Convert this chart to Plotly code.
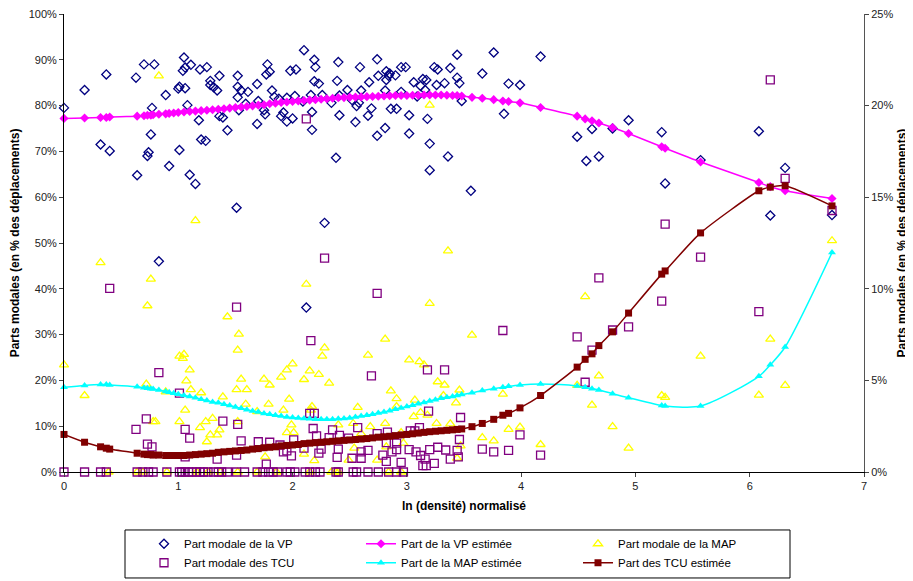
import plotly.graph_objects as go

# ---------------- DATA ----------------
vp_x = [0.00, 0.18, 0.37, 0.32, 0.40, 0.63, 0.64, 0.70, 0.79, 0.77, 0.76, 0.74, 0.73, 0.89, 0.92,
        1.01, 1.00, 1.01, 1.04, 1.05, 1.06, 1.06, 1.08, 1.10, 1.15, 1.11, 1.18, 1.20, 1.24, 1.19,
        1.25, 1.28, 1.28, 1.31, 1.34, 1.36, 1.36, 1.39, 1.43, 1.51, 1.52, 1.52, 1.52, 1.53, 1.55,
        1.59, 1.61, 1.69, 1.69, 1.70, 1.75, 1.76, 1.77, 1.78, 1.80, 1.82, 1.84, 1.88, 1.90, 1.92,
        1.95, 1.95, 1.98, 2.00, 2.02, 2.03, 2.10, 2.09, 2.16, 2.17, 2.17, 2.19, 2.20, 2.19, 2.23,
        2.26, 2.28, 2.34, 2.38, 2.39, 2.40, 2.41, 2.41, 2.48, 2.52, 2.55, 2.56, 2.58, 2.59, 2.60,
        2.67, 2.66, 2.69, 2.74, 2.74, 2.75, 2.81, 2.81, 2.82, 2.82, 2.84, 2.85, 2.86, 2.91, 2.90,
        2.95, 2.95, 2.99, 3.02, 3.02, 3.06, 3.09, 3.12, 3.14, 3.16, 3.17, 3.18, 3.20, 3.20, 3.24,
        3.26, 3.27, 3.33, 3.36, 3.38, 3.44, 3.44, 3.46, 0.83, 2.12,
        3.48, 3.56, 3.66, 3.76, 3.85, 3.89, 3.99, 4.17, 4.49, 4.57, 4.62, 4.68, 4.80, 4.94,
        5.23, 5.26, 5.57, 6.08, 6.18, 6.31, 6.72]
vp_y = [79.5, 83.4, 86.8, 71.5, 70.1, 86.1, 64.8, 89.0, 89.0, 79.5, 73.7, 69.8, 69.0, 82.3, 66.8,
        70.3, 83.7, 84.1, 87.6, 90.5, 88.3, 83.8, 80.1, 64.9, 62.9, 88.9, 76.8, 72.6, 72.3, 87.9,
        88.4, 85.4, 84.5, 84.0, 83.3, 86.5, 77.7, 77.4, 74.6, 57.7, 86.5, 84.1, 81.8, 79.0, 83.3,
        80.4, 83.0, 84.7, 76.0, 81.0, 79.0, 78.1, 86.8, 89.0, 87.4, 83.3, 81.9, 81.5, 77.7, 78.5,
        81.7, 76.5, 87.6, 77.2, 82.1, 87.9, 92.1, 80.9, 82.3, 78.6, 74.7, 90.0, 88.4, 85.3, 84.8,
        82.3, 54.4, 80.6, 68.6, 85.4, 89.5, 77.9, 82.2, 83.4, 81.2, 76.4, 79.9, 80.6, 88.4, 83.3,
        85.1, 77.8, 79.4, 90.1, 73.4, 86.5, 83.3, 75.1, 87.5, 85.6, 86.5, 87.0, 79.3, 79.3, 86.6,
        88.4, 83.0, 88.4, 77.9, 73.9, 85.1, 82.0, 84.3, 85.8, 83.4, 85.6, 77.1, 71.7, 65.9, 88.4,
        84.5, 87.9, 84.9, 68.9, 88.2, 91.1, 86.1, 84.9, 46.0, 35.9,
        81.0, 61.4, 87.0, 91.6, 78.2, 84.8, 84.5, 90.7, 73.2, 67.9, 74.9, 68.9, 75.0, 76.8,
        74.2, 63.0, 68.1, 74.4, 56.0, 66.4, 56.1]

map_x = [0.00, 0.18, 0.32, 0.72, 0.73, 0.76, 0.78, 0.80, 0.83, 0.89, 1.01, 1.01, 1.04, 1.05, 1.06,
         1.07, 1.10, 1.11, 1.15, 1.19, 1.20, 1.24, 1.25, 1.28, 1.30, 1.34, 1.36, 1.39, 1.43, 1.51,
         1.52, 1.53, 1.52, 1.55, 1.59, 1.60, 1.69, 1.75, 1.76, 1.79, 1.80, 1.90, 1.92, 1.95, 1.95,
         1.97, 1.99, 2.00, 2.01, 2.10, 2.10, 2.12, 2.15, 2.16, 2.17, 2.19, 2.23, 2.26, 2.28, 2.32,
         2.40, 2.49, 2.53, 2.54, 2.57, 2.60, 2.66, 2.68, 2.74, 2.81, 2.81, 2.82, 2.86, 2.91, 2.91,
         2.95, 2.97, 3.02, 3.06, 3.07, 3.11, 3.12, 3.15, 3.18, 3.20, 3.20, 3.26, 3.27, 3.32, 3.33,
         3.36, 3.38, 3.43, 3.44, 3.46, 3.47, 3.57, 3.66, 3.76, 3.84, 3.89, 3.99, 4.17, 4.49, 4.56,
         4.62, 4.68, 4.80, 4.94, 5.23, 5.26, 5.57, 6.08, 6.18, 6.31, 6.72]
map_y = [23.4, 16.7, 45.7, 19.2, 36.3, 42.1, 11.0, 11.0, 86.5, 17.5, 25.3, 11.0, 24.8, 25.7, 13.5,
         19.9, 22.3, 18.0, 54.9, 9.7, 17.3, 11.0, 6.6, 8.1, 11.7, 8.1, 9.2, 16.4, 33.9, 18.0,
         26.6, 30.1, 11.0, 20.3, 14.8, 18.0, 13.2, 20.3, 3.3, 14.8, 19.0, 20.7, 13.5, 22.3, 8.6,
         15.9, 10.3, 23.6, 8.6, 20.2, 3.9, 41.0, 22.1, 13.5, 14.3, 2.5, 21.3, 25.3, 27.1, 19.4,
         10.3, 2.6, 10.6, 5.2, 14.1, 8.4, 25.5, 9.9, 2.6, 29.0, 10.6, 5.5, 17.7, 16.0, 14.3,
         8.6, 6.3, 24.5, 12.1, 15.7, 24.1, 13.0, 23.4, 12.4, 36.8, 80.1, 10.6, 19.7, 16.7, 19.0,
         48.3, 10.5, 15.1, 3.0, 17.9, 5.7, 29.9, 7.5, 6.8, 17.0, 9.3, 9.8, 6.0, 18.9, 38.3,
         14.6, 21.0, 9.9, 5.2, 16.7, 16.3, 25.3, 16.8, 29.0, 18.9, 50.5]
map_zero_x = [0.39, 0.64, 0.69, 0.90, 1.16, 1.26, 1.37, 1.52, 1.69, 1.86, 2.15, 2.34, 2.38, 2.40,
              2.84, 2.95]
map_zero_y = [0, 0, 0, 0, 0, 0, 0, 0, 0, 0, 0, 0, 0, 0, 0, 0]

tcu_x = [0.40, 0.63, 0.72, 0.73, 0.77, 0.83, 1.01, 1.06, 1.06, 1.10, 1.34, 1.39, 1.51, 1.52, 1.51,
         1.55, 1.70, 1.77, 1.80, 1.89, 1.92, 1.95, 1.99, 2.01, 2.10, 2.12, 2.16, 2.15, 2.19, 2.18,
         2.21, 2.23, 2.25, 2.28, 2.32, 2.35, 2.39, 2.40, 2.41, 2.49, 2.52, 2.57, 2.60, 2.60, 2.66,
         2.69, 2.74, 2.74, 2.79, 2.82, 2.82, 2.83, 2.87, 2.91, 2.91, 2.95, 3.02, 3.03, 3.07, 3.08,
         3.11, 3.12, 3.14, 3.16, 3.17, 3.18, 3.19, 3.20, 3.24, 3.27, 3.33, 3.34, 3.38, 3.44, 3.45,
         3.46, 3.47, 3.66, 3.76, 3.84, 3.89, 3.99, 4.17, 4.49, 4.56, 4.62, 4.68, 4.80, 4.94, 5.23,
         5.26, 5.57, 6.08, 6.18, 6.31, 6.72]
tcu_y = [40.1, 9.3, 11.6, 6.1, 5.5, 21.7, 17.2, 9.3, 3.3, 7.4, 2.8, 11.1, 36.0, 10.4, 3.7,
         6.8, 6.6, 1.7, 6.5, 5.9, 4.4, 4.6, 3.5, 7.0, 5.2, 77.1, 28.7, 12.8, 12.8, 9.5,
         7.9, 4.1, 5.0, 46.7, 7.5, 9.2, 3.2, 5.0, 8.0, 7.4, 3.0, 9.7, 4.4, 3.0, 4.7,
         21.0, 39.0, 8.4, 3.7, 2.3, 6.4, 8.7, 4.4, 4.9, 6.3, 2.1, 4.9, 9.0, 9.0, 4.4,
         9.7, 3.6, 1.4, 2.8, 1.4, 22.3, 13.3, 4.9, 1.9, 5.4, 22.3, 4.8, 2.8, 4.7, 3.3,
         7.1, 11.9, 5.0, 4.4, 30.9, 4.7, 8.1, 3.7, 29.5, 19.6, 26.6, 42.4, 31.0, 31.7, 37.3,
         54.1, 46.9, 35.0, 85.6, 64.1, 57.1]
tcu_zero_x = [0.00, 0.18, 0.32, 0.37, 0.64, 0.69, 0.74, 0.78, 0.90, 1.01, 1.03, 1.06, 1.09, 1.12,
              1.16, 1.19, 1.22, 1.26, 1.31, 1.35, 1.38, 1.43, 1.51, 1.58, 1.69, 1.74, 1.79, 1.83,
              1.87, 1.95, 1.98, 2.02, 2.11, 2.15, 2.20, 2.24, 2.38, 2.40, 2.53, 2.56, 2.66, 2.75,
              2.84, 2.91, 2.97]
tcu_zero_y = [0, 0, 0, 0, 0, 0, 0, 0, 0, 0, 0, 0, 0, 0, 0, 0, 0, 0, 0, 0, 0, 0, 0, 0, 0, 0, 0, 0,
              0, 0, 0, 0, 0, 0, 0, 0, 0, 0, 0, 0, 0, 0, 0, 0, 0]

est_x = [0.00, 0.18, 0.32, 0.37, 0.40, 0.64, 0.70, 0.73, 0.76, 0.78, 0.83, 0.89, 0.92, 0.96,
         1.00, 1.05, 1.10, 1.15, 1.20, 1.25, 1.30, 1.35, 1.40, 1.45, 1.50, 1.55, 1.60, 1.65, 1.70,
         1.75, 1.80, 1.85, 1.90, 1.95, 2.00, 2.05, 2.10, 2.15, 2.20, 2.25, 2.30, 2.35, 2.40, 2.45,
         2.50, 2.55, 2.60, 2.65, 2.70, 2.75, 2.80, 2.85, 2.90, 2.95, 3.00, 3.05, 3.10, 3.15, 3.20,
         3.25, 3.30, 3.35, 3.40, 3.44, 3.48,
         3.57, 3.66, 3.76, 3.84, 3.89, 3.99, 4.17, 4.49, 4.56, 4.62, 4.68, 4.80, 4.94, 5.23, 5.26,
         5.57, 6.08, 6.18, 6.31, 6.72]
vp_est = [77.2, 77.3, 77.4, 77.4, 77.5, 77.7, 77.8, 77.9, 77.9, 78.0, 78.1, 78.2, 78.3, 78.4,
          78.5, 78.6, 78.7, 78.8, 78.9, 79.0, 79.1, 79.2, 79.3, 79.45, 79.6, 79.7, 79.8, 79.95, 80.1,
          80.2, 80.4, 80.5, 80.7, 80.8, 80.9, 81.0, 81.1, 81.2, 81.3, 81.4, 81.5, 81.6, 81.7, 81.75,
          81.8, 81.85, 81.9, 81.95, 82.0, 82.05, 82.1, 82.15, 82.2, 82.2, 82.2, 82.25, 82.25, 82.3, 82.3,
          82.3, 82.3, 82.25, 82.2, 82.2, 82.1,
          81.8, 81.6, 81.3, 81.0, 80.9, 80.6, 79.6, 77.7, 77.1, 76.7, 76.2, 75.2, 73.9, 71.0, 70.7,
          67.7, 63.2, 62.3, 61.4, 59.7]
map_est = [18.5, 18.9, 19.1, 19.1, 19.0, 18.6, 18.4, 18.3, 18.2, 18.1, 17.9, 17.6, 17.4, 17.2,
           17.0, 16.7, 16.5, 16.2, 15.9, 15.6, 15.3, 15.1, 14.8, 14.5, 14.2, 13.9, 13.6, 13.3, 13.1,
           12.8, 12.6, 12.4, 12.2, 12.0, 11.9, 11.8, 11.7, 11.6, 11.5, 11.5, 11.5, 11.5, 11.6, 11.7,
           11.8, 12.0, 12.2, 12.4, 12.6, 12.9, 13.1, 13.4, 13.7, 14.0, 14.3, 14.6, 14.9, 15.2, 15.5,
           15.8, 16.1, 16.3, 16.5, 16.7, 16.9,
           17.3, 17.8, 18.2, 18.5, 18.7, 19.0, 19.2, 18.8, 18.5, 18.2, 17.9, 17.1, 16.2, 14.5, 14.4,
           14.4, 20.9, 23.4, 27.3, 47.9]
tcu_est = [8.2, 6.5, 5.5, 5.2, 5.0, 4.1, 3.9, 3.8, 3.8, 3.7, 3.7, 3.6, 3.6, 3.6,
           3.6, 3.6, 3.7, 3.8, 3.9, 4.0, 4.1, 4.3, 4.4, 4.5, 4.6, 4.7, 4.8, 5.0, 5.1,
           5.3, 5.4, 5.5, 5.7, 5.8, 5.9, 6.0, 6.2, 6.3, 6.4, 6.5, 6.6, 6.7, 6.8, 6.9,
           7.0, 7.1, 7.2, 7.3, 7.45, 7.6, 7.7, 7.8, 7.95, 8.1, 8.2, 8.35, 8.5, 8.65, 8.8,
           8.9, 9.0, 9.1, 9.2, 9.3, 9.4,
           9.9, 10.6, 11.5, 12.4, 12.8, 14.0, 16.7, 22.9, 24.6, 25.8, 27.6, 30.6, 34.7, 43.2, 43.9,
           52.2, 61.4, 62.2, 62.5, 58.1]

x_ticks = [0, 1, 2, 3, 4, 5, 6, 7]
left_ticks = [0, 10, 20, 30, 40, 50, 60, 70, 80, 90, 100]
left_labels = ["0%", "10%", "20%", "30%", "40%", "50%", "60%", "70%", "80%", "90%", "100%"]
right_ticks = [0, 5, 10, 15, 20, 25]
right_labels = ["0%", "5%", "10%", "15%", "20%", "25%"]

# ---------------- FIGURE ----------------
FONT = "Liberation Sans, Arial, sans-serif"
fig = go.Figure()

fig.add_trace(go.Scatter(
    x=vp_x, y=vp_y, mode="markers", name="Part modale de la VP", legendrank=1,
    marker=dict(symbol="diamond-open", size=7, color="#000080", line=dict(width=1.3)),
    cliponaxis=False))
fig.add_trace(go.Scatter(
    x=map_x + map_zero_x, y=map_y + map_zero_y, mode="markers", name="Part modale de la MAP",
    legendrank=3,
    marker=dict(symbol="triangle-up-open", size=8, color="#FFFF00", line=dict(width=1.3)),
    cliponaxis=False))
fig.add_trace(go.Scatter(
    x=tcu_x + tcu_zero_x, y=tcu_y + tcu_zero_y, mode="markers", name="Part modale des TCU",
    legendrank=4,
    marker=dict(symbol="square-open", size=8, color="#800080", line=dict(width=1.3)),
    cliponaxis=False))
fig.add_trace(go.Scatter(
    x=est_x, y=vp_est, mode="lines+markers", name="Part de la VP estimée", legendrank=2,
    line=dict(color="#FF00FF", width=1.5, shape="spline", smoothing=0.6),
    marker=dict(symbol="diamond", size=7, color="#FF00FF"), cliponaxis=False))
fig.add_trace(go.Scatter(
    x=est_x, y=map_est, mode="lines+markers", name="Part de la MAP estimée", legendrank=5,
    line=dict(color="#00FFFF", width=1.5, shape="spline", smoothing=0.8),
    marker=dict(symbol="triangle-up", size=7, color="#00FFFF"), cliponaxis=False))
fig.add_trace(go.Scatter(
    x=est_x, y=tcu_est, mode="lines+markers", name="Part des TCU estimée", legendrank=6,
    line=dict(color="#800000", width=1.5, shape="spline", smoothing=0.6),
    marker=dict(symbol="square", size=7, color="#800000"), cliponaxis=False))
# invisible trace to anchor the secondary axis
fig.add_trace(go.Scatter(x=[0], y=[0], yaxis="y2", mode="markers", showlegend=False,
                         marker=dict(opacity=0), hoverinfo="skip"))

axis_font = dict(family=FONT, size=11, color="#222222")
title_font = dict(family=FONT, size=12, color="#000000", weight="bold")

fig.update_layout(
    width=905, height=573,
    margin=dict(l=56, r=49, t=6, b=109, autoexpand=False),
    paper_bgcolor="white", plot_bgcolor="white",
    font=dict(family=FONT, size=11, color="#000000"),
    xaxis=dict(range=[0, 7], tickvals=x_ticks, showgrid=False, zeroline=False,
               showline=True, linecolor="black", linewidth=1, ticks="outside", ticklen=4,
               tickfont=axis_font, automargin=False,
               title=dict(text="ln (densité) normalisé", font=title_font, standoff=10)),
    yaxis=dict(range=[0, 100], tickvals=left_ticks, ticktext=left_labels, showgrid=False,
               zeroline=False, showline=True, linecolor="black", linewidth=1,
               ticks="outside", ticklen=4, tickfont=axis_font, automargin=False,
               ticklabeloverflow="allow",
               title=dict(text="Parts modales (en % des déplacements)", font=title_font,
                          standoff=8)),
    yaxis2=dict(range=[0, 25], tickvals=right_ticks, ticktext=right_labels, overlaying="y",
                side="right", showgrid=False, zeroline=False, showline=True,
                linecolor="#555555", linewidth=1, ticks="outside", ticklen=4,
                tickfont=axis_font, automargin=False, ticklabeloverflow="allow",
                title=dict(text="Parts modales (en % des déplacements)", font=title_font,
                           standoff=5)),
    legend=dict(orientation="h", x=0.10, xanchor="left", y=-0.125, yanchor="top",
                borderwidth=0, bgcolor="rgba(0,0,0,0)",
                font=dict(family=FONT, size=11.5, color="#000000"),
                entrywidth=172, entrywidthmode="pixels", tracegroupgap=0,
                itemsizing="trace"),
    shapes=[dict(type="rect", xref="paper", yref="paper",
                 x0=0.07625, x1=0.9075, y0=-0.2314, y1=-0.1266,
                 line=dict(color="black", width=1), fillcolor="rgba(0,0,0,0)")],
    showlegend=True,
)

fig.write_html("out.html")
